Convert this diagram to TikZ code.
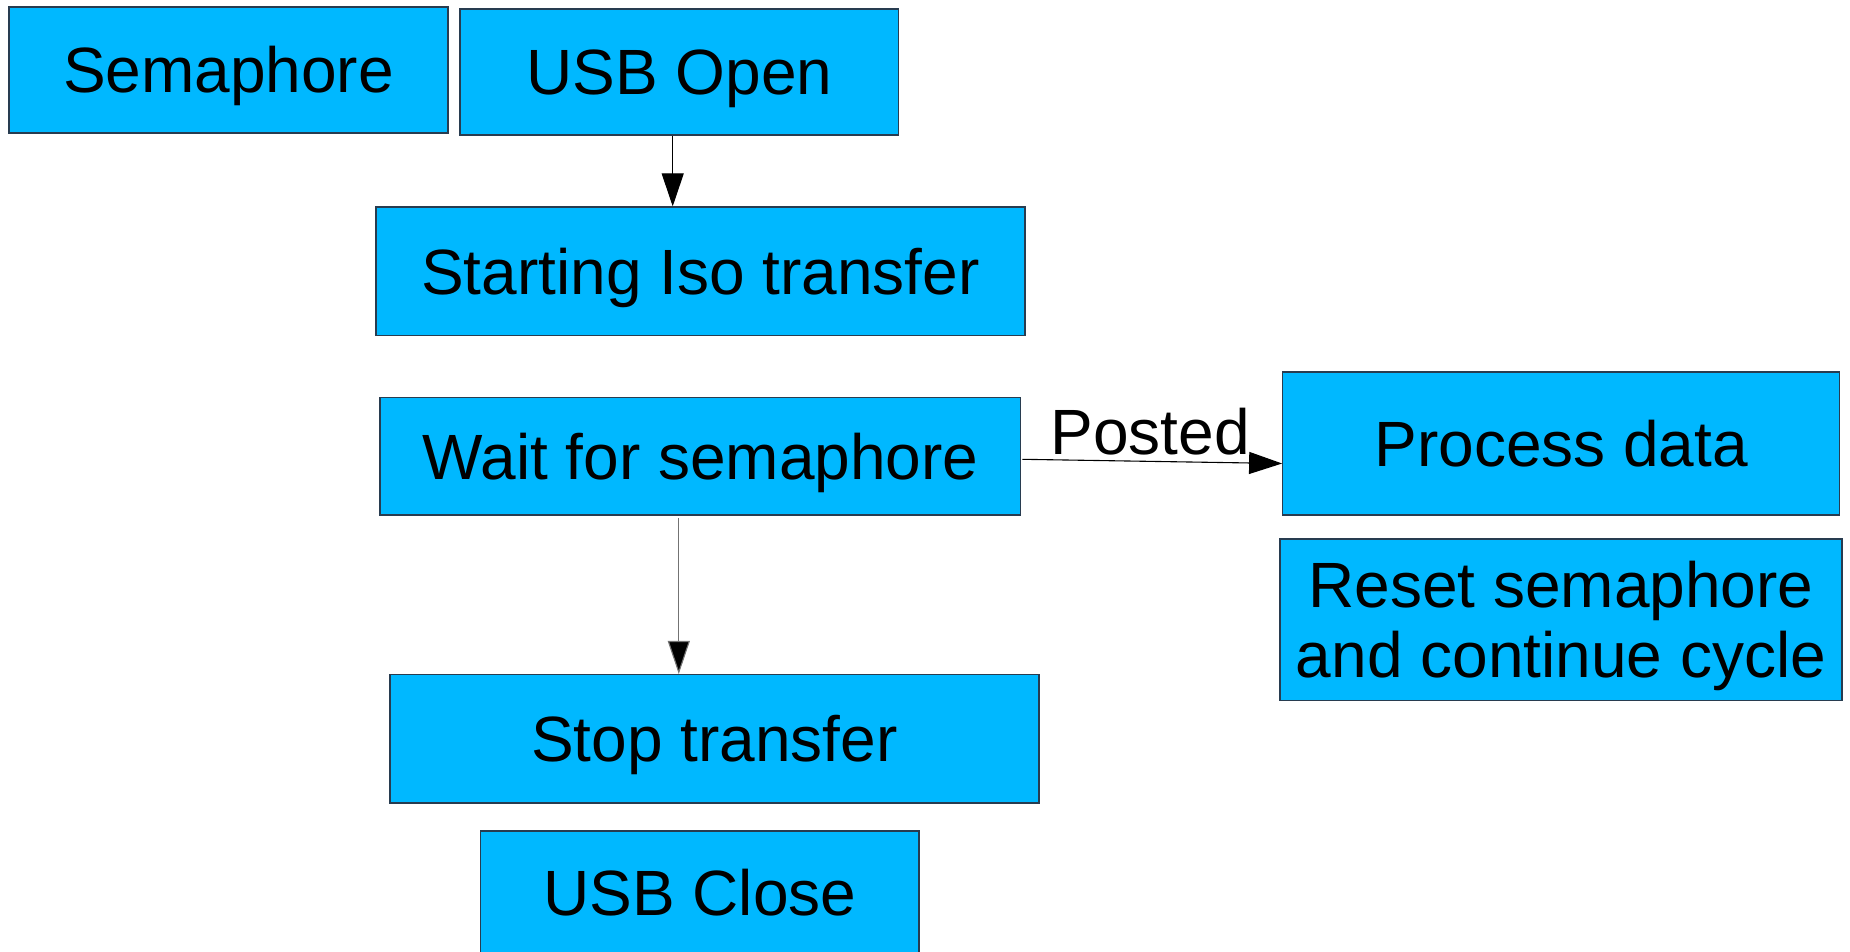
\documentclass[tikz,border=0pt]{standalone}
\usepackage{fontspec}
\setmainfont{Liberation Sans}
\usetikzlibrary{arrows.meta}
\definecolor{boxblue}{RGB}{0,184,255}
\definecolor{boxline}{RGB}{40,60,80}
\tikzset{
  stepbox/.style={rectangle, draw=boxline, line width=1.2pt, fill=boxblue, inner sep=0pt,
    font=\fontsize{64}{70}\selectfont, text height=46pt, text depth=0pt, align=center},
  conn/.style={line width=1.1pt, -{Triangle[length=33pt,width=22pt]}},
  lbl/.style={font=\fontsize{64}{70}\selectfont, inner sep=0pt, anchor=base}
}
\begin{document}
\begin{tikzpicture}[x=1pt,y=-1pt]
\useasboundingbox (0,0) rectangle (1850,952);
\clip (0,0) rectangle (1850,952);
\fill[white] (0,0) rectangle (1850,952);
\node[stepbox, minimum width=439pt, minimum height=126pt] (sem) at (228.5,70) {Semaphore};
\node[stepbox, minimum width=438.6pt, minimum height=126pt] (uopen) at (679.3,72) {USB Open};
\node[stepbox, minimum width=649pt, minimum height=128.7pt] (start) at (700.5,271.3) {Starting Iso transfer};
\node[stepbox, minimum width=640.7pt, minimum height=117.5pt] (wait) at (700.4,456.3) {Wait for semaphore};
\node[stepbox, minimum width=557pt, minimum height=143pt] (proc) at (1561.2,443.5) {Process data};
\node[stepbox, minimum width=562pt, minimum height=161.6pt, text height=116pt, text depth=0pt] (reset) at (1561,619.8) {Reset semaphore\\and continue cycle};
\node[stepbox, minimum width=649pt, minimum height=128.5pt] (stop) at (714.5,738.8) {Stop transfer};
\node[stepbox, minimum width=438.5pt, minimum height=122pt] (uclose) at (699.8,892) {USB Close};
\draw[conn, black] ([xshift=-6.6pt]uopen.south) -- ([xshift=-6.6pt]uopen.south |- start.north);
\draw[conn, black!55, {Triangle[length=33pt,width=22pt,fill=black]}-] ([xshift=-21.6pt]wait.south |- stop.north) -- ([xshift=-21.6pt,yshift=-2pt]wait.south);
\draw[conn, black] ([yshift=-3pt,xshift=1pt]wait.east) -- ([yshift=-20pt]proc.west);
\node[lbl] (posted) at (1150,454) {Posted};
\end{tikzpicture}
\end{document}
